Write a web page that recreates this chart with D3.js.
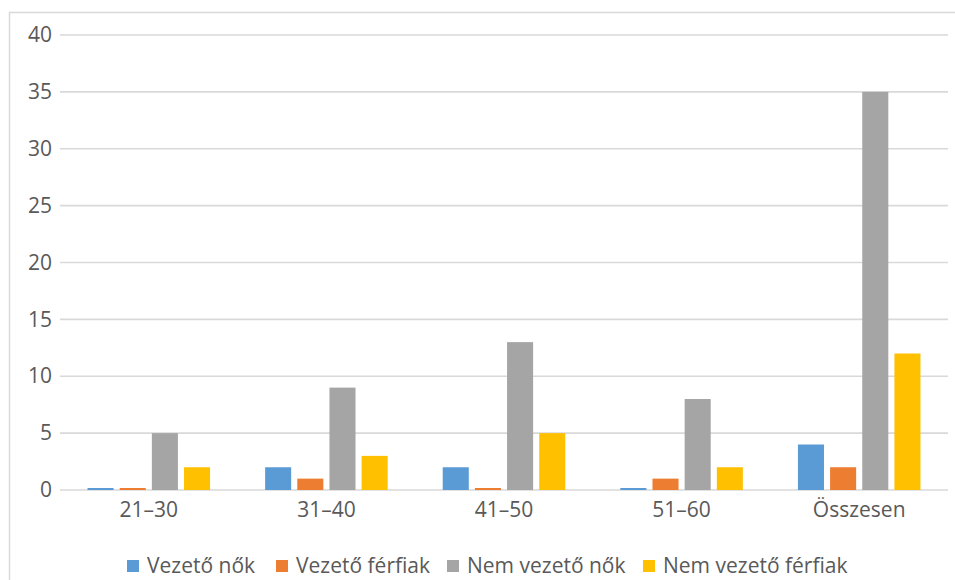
<!DOCTYPE html>
<html lang="hu">
<head>
<meta charset="UTF-8">
<title>Vezetők korcsoport szerint</title>
<script src="https://d3js.org/d3.v7.min.js"></script>
<style>
  body { margin: 0; background: #fff; }
  text { font-family: "Open Sans", "Liberation Sans", sans-serif; fill: #595959; }
</style>
</head>
<body>
<div id="chart"></div>
<script>
// data
var categories = ["21–30", "31–40", "41–50", "51–60", "Összesen"];
var seriesNames = ["Vezető nők", "Vezető férfiak", "Nem vezető nők", "Nem vezető férfiak"];
var seriesColors = ["#5B9BD5", "#ED7D31", "#A5A5A5", "#FFC000"];
var vezetoNok = [0, 2, 2, 0, 4];
var vezetoFerfiak = [0, 1, 0, 1, 2];
var nemVezetoNok = [5, 9, 13, 8, 35];
var nemVezetoFerfiak = [2, 3, 5, 2, 12];
var yTicks = [0, 5, 10, 15, 20, 25, 30, 35, 40];

var allSeries = [vezetoNok, vezetoFerfiak, nemVezetoNok, nemVezetoFerfiak];

var width = 955, height = 580;
var margin = {left: 60, right: 7, top: 35, bottom: 90};
var fontSize = "21px";

var svg = d3.select("#chart").append("svg")
    .attr("width", width)
    .attr("height", height);

// chart border
svg.append("rect")
    .attr("x", 9.5).attr("y", 12.5)
    .attr("width", 950).attr("height", 580)
    .attr("fill", "none")
    .attr("stroke", "#D9D9D9")
    .attr("stroke-width", 1.5);

var x0 = d3.scaleBand()
    .domain(categories)
    .range([margin.left, width - margin.right])
    .paddingInner(0.31)
    .paddingOuter(0.155);

var x1 = d3.scaleBand()
    .domain(seriesNames)
    .range([0, x0.bandwidth()])
    .paddingInner(0.19);

var y = d3.scaleLinear()
    .domain([0, 40])
    .range([490, 35]);

// gridlines
svg.append("g")
  .selectAll("line")
  .data(yTicks)
  .enter().append("line")
    .attr("x1", margin.left)
    .attr("x2", width - margin.right)
    .attr("y1", function(d){ return y(d); })
    .attr("y2", function(d){ return y(d); })
    .attr("stroke", "#D9D9D9")
    .attr("stroke-width", 1.6);

// y axis labels
var yAxis = d3.axisLeft(y).tickValues(yTicks).tickSize(0).tickPadding(6);
svg.append("g")
    .attr("transform", "translate(" + (margin.left - 2) + ",0)")
    .call(yAxis)
    .call(function(g){ g.select(".domain").remove(); })
    .selectAll("text")
    .style("font-size", fontSize)
    .attr("fill", "#595959");

// bars
var groups = svg.append("g")
  .selectAll("g")
  .data(categories)
  .enter().append("g")
    .attr("transform", function(d){ return "translate(" + x0(d) + ",0)"; });

groups.selectAll("rect")
  .data(function(c, i){
      return seriesNames.map(function(s, j){ return {series: s, value: allSeries[j][i], color: seriesColors[j]}; });
  })
  .enter().append("rect")
    .attr("x", function(d){ return x1(d.series); })
    .attr("width", x1.bandwidth())
    .attr("y", function(d){ return Math.min(y(d.value), y(0) - 2); })
    .attr("height", function(d){ return Math.max(y(0) - y(d.value), 2); })
    .attr("fill", function(d){ return d.color; });

// x axis labels
var xAxis = d3.axisBottom(x0).tickSize(0).tickPadding(12);
svg.append("g")
    .attr("transform", "translate(0," + y(0) + ")")
    .call(xAxis)
    .call(function(g){ g.select(".domain").remove(); })
    .selectAll("text")
    .style("font-size", fontSize)
    .attr("fill", "#595959");

// legend
var legendX = [127, 276, 447, 643];
var legend = svg.append("g")
  .selectAll("g")
  .data(seriesNames)
  .enter().append("g")
    .attr("transform", function(d, i){ return "translate(" + legendX[i] + ",560)"; });

legend.append("rect")
    .attr("width", 12).attr("height", 12)
    .attr("fill", function(d, i){ return seriesColors[i]; });

legend.append("text")
    .attr("x", 20)
    .attr("y", 6)
    .attr("dy", "0.35em")
    .style("font-size", fontSize)
    .text(function(d){ return d; });
</script>
</body>
</html>
